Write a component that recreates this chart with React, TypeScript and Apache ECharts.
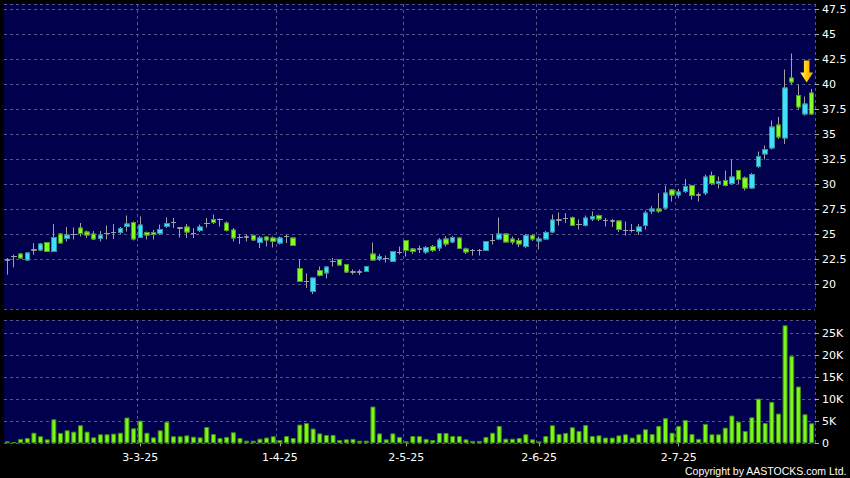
import React, { useEffect, useRef } from 'react';
import * as echarts from 'echarts';

// Trading days (2025) per month
const feb = [3, 4, 5, 6, 7, 10, 11, 12, 13, 14, 17, 18, 19, 20, 21, 24, 25, 26, 27, 28];
const mar = [3, 4, 5, 6, 7, 10, 11, 12, 13, 14, 17, 18, 19, 20, 21, 24, 25, 26, 27, 28, 31];
const apr = [1, 2, 3, 7, 8, 9, 10, 11, 14, 15, 16, 17, 22, 23, 24, 25, 28, 29, 30];
const may = [2, 6, 7, 8, 9, 12, 13, 14, 15, 16, 19, 20, 21, 22, 23, 26, 27, 28, 29, 30];
const jun = [2, 3, 4, 5, 6, 9, 10, 11, 12, 13, 16, 17, 18, 19, 20, 23, 24, 25, 26, 27, 30];
const jul = [2, 3, 4, 7, 8, 9, 10, 11, 14, 15, 16, 17, 18, 21, 22, 23, 24, 25, 28, 29, 30];
const monthDays: [number, number[]][] = [[2, feb], [3, mar], [4, apr], [5, may], [6, jun], [7, jul]];
const dates: string[] = monthDays.flatMap(([m, days]) => days.map((d) => `${d}-${m}-25`));
const labelMonths = [3, 4, 5, 6, 7];

const opens = [
  22.4, 22.75, 23.0, 22.4, 23.4, 23.4, 24.15, 23.25, 25.0, 24.55,
  24.95, 25.6, 25.2, 25.0, 24.55, 25.05, 25.15, 25.15, 25.75, 26.15,
  24.65, 25.15, 25.15, 25.05, 25.75, 26.15, 25.6, 25.7, 25.05, 25.35,
  26.05, 26.45, 26.45, 26.1, 25.4, 24.65, 24.7, 24.85, 24.15, 24.7,
  24.6, 24.1, 24.75, 24.6, 21.55, 20.25, 19.25, 21.35, 21.1, 22.25,
  22.45, 21.95, 21.2, 21.2, 21.25, 23.0, 22.5, 22.55, 22.25, 23.15,
  24.35, 23.5, 23.5, 23.2, 23.75, 23.6, 24.5, 24.2, 24.6, 23.5,
  23.35, 23.35, 23.35, 24.35, 24.5, 25.0, 24.5, 24.35, 23.75, 24.85,
  24.3, 24.5, 25.2, 26.4, 26.55, 26.65, 25.95, 25.85, 26.5, 26.85,
  26.35, 26.3, 26.3, 25.35, 25.35, 25.25, 25.85, 27.3, 27.5, 27.6,
  29.4, 28.9, 29.25, 29.85, 28.9, 29.1, 30.85, 30.05, 30.35, 30.05,
  31.35, 30.6, 29.6, 31.75, 33.0, 33.6, 35.9, 34.6, 40.6, 38.85,
  37.0, 39.1,
];
const closes = [
  22.4, 22.75, 22.6, 23.1, 23.4, 24.0, 23.25, 24.65, 24.1, 24.9,
  24.95, 25.05, 24.9, 24.5, 24.9, 25.05, 25.15, 25.55, 26.0, 24.5,
  25.9, 24.9, 24.95, 25.45, 26.05, 26.15, 25.6, 25.2, 25.05, 25.7,
  26.05, 26.15, 26.45, 25.35, 24.6, 24.65, 24.7, 24.4, 24.6, 24.4,
  24.25, 24.6, 24.75, 23.85, 20.25, 20.25, 20.6, 20.85, 21.7, 22.25,
  21.9, 21.2, 21.2, 21.2, 21.75, 22.4, 22.75, 22.55, 23.25, 23.15,
  23.35, 23.25, 23.5, 23.65, 23.35, 24.4, 24.0, 24.65, 23.55, 23.2,
  23.35, 23.35, 24.25, 24.35, 25.0, 24.2, 24.2, 24.0, 24.85, 24.5,
  24.5, 25.15, 26.4, 26.4, 26.55, 25.85, 25.95, 26.6, 26.75, 26.5,
  26.35, 26.3, 25.45, 25.35, 25.35, 25.7, 27.1, 27.5, 27.3, 29.1,
  28.9, 29.2, 29.75, 28.85, 28.9, 30.7, 30.05, 30.25, 29.85, 30.7,
  30.45, 29.6, 30.95, 32.75, 33.45, 35.7, 34.7, 39.6, 40.2, 37.7,
  38.0, 37.0,
];
const lows = [
  20.93, 21.66, 22.5, 22.35, 22.93, 23.3, 23.2, 23.25, 24.05, 24.25,
  24.45, 24.75, 24.6, 24.4, 24.25, 24.45, 24.5, 25.0, 25.25, 24.35,
  24.65, 24.45, 24.45, 24.9, 25.6, 25.6, 24.65, 24.6, 24.6, 25.2,
  25.65, 26.0, 25.75, 25.25, 24.25, 24.0, 24.25, 24.3, 23.6, 23.75,
  23.65, 23.95, 24.1, 23.85, 20.2, 19.6, 19.0, 20.75, 20.55, 21.75,
  21.85, 21.1, 20.95, 20.9, 21.2, 22.3, 22.3, 22.15, 22.25, 22.95,
  22.75, 23.0, 23.1, 23.0, 23.2, 23.3, 23.75, 24.1, 23.5, 23.0,
  22.85, 22.85, 23.35, 23.95, 24.45, 24.2, 23.95, 23.7, 23.6, 24.3,
  23.45, 24.45, 25.1, 25.85, 26.1, 25.8, 25.45, 25.75, 26.3, 26.3,
  25.75, 25.7, 25.2, 24.85, 25.15, 24.9, 25.45, 27.0, 27.1, 27.5,
  28.25, 28.6, 29.1, 28.45, 28.25, 28.9, 29.9, 29.55, 29.75, 29.95,
  30.0, 29.35, 29.55, 31.6, 32.45, 33.45, 34.5, 34.0, 39.95, 37.45,
  36.85, 36.95,
];
const highs = [
  22.6, 22.93, 23.1, 23.15, 24.1, 24.1, 24.2, 26.0, 25.1, 25.7,
  25.65, 26.1, 25.35, 25.3, 25.3, 25.85, 26.0, 25.7, 26.85, 26.25,
  26.75, 25.25, 25.4, 25.95, 26.65, 26.6, 25.65, 26.0, 25.6, 25.95,
  26.6, 26.95, 26.55, 26.25, 25.6, 25.0, 24.95, 24.95, 24.8, 24.75,
  24.75, 24.75, 24.95, 24.6, 22.45, 21.05, 20.6, 21.75, 21.75, 22.6,
  22.5, 22.0, 21.45, 21.45, 21.8, 24.15, 23.0, 22.85, 23.25, 23.75,
  24.35, 23.6, 23.85, 23.8, 23.9, 24.6, 24.8, 24.8, 24.65, 23.65,
  23.5, 23.5, 24.3, 25.0, 26.65, 25.0, 24.75, 24.6, 25.0, 25.0,
  24.75, 25.3, 26.95, 27.15, 27.1, 26.75, 26.45, 26.85, 27.25, 26.95,
  26.6, 26.5, 26.35, 26.25, 26.0, 26.0, 27.35, 27.8, 29.1, 29.85,
  29.5, 29.5, 30.5, 29.85, 29.15, 30.95, 31.25, 30.75, 31.35, 32.45,
  31.35, 30.75, 31.1, 33.25, 33.85, 36.35, 36.7, 41.45, 43.05, 39.95,
  38.75, 39.5,
];
const volumes = [
  450, 300, 1000, 1200, 2400, 1600, 900, 5450, 2350, 2950,
  2650, 4100, 2650, 1350, 2050, 2050, 2200, 2400, 5850, 3400,
  5150, 2400, 1350, 2950, 4900, 1600, 1600, 1800, 1500, 1350,
  3700, 2100, 1200, 1450, 2500, 1200, 600, 600, 1050, 1300,
  1600, 750, 1650, 1200, 4250, 4600, 3350, 2250, 1900, 1900,
  750, 900, 1000, 600, 600, 8350, 2250, 900, 2250, 1450,
  450, 1650, 1650, 1000, 750, 2350, 2350, 1650, 1650, 900,
  550, 550, 1450, 2400, 3950, 1050, 1050, 1200, 2050, 900,
  450, 1650, 4100, 2100, 2350, 3650, 2800, 4150, 1650, 1800,
  1300, 1300, 1800, 2050, 1300, 2050, 3200, 2100, 3950, 5700,
  2400, 3950, 5300, 2100, 1000, 4400, 2050, 2050, 3550, 6300,
  4900, 2800, 5900, 10150, 4600, 9400, 6750, 26800, 19850, 12900,
  6600, 4550,
];
const arrowLevel = 41.25;

const FONT = '"DejaVu Sans", sans-serif';
const GRID_LINE = '#55558c';
const PANEL = '#00004d';

const labelIdx: number[] = labelMonths.map((m) => dates.findIndex((d) => d.split('-')[1] === String(m)));
const isLabel = (i: number) => labelIdx.includes(i);

const App = () => {
  const ref = useRef<HTMLDivElement>(null);
  useEffect(() => {
    document.body.style.margin = '0';
    document.body.style.background = '#000';
    const chart = echarts.init(ref.current!, null, { renderer: 'svg' });
    const gridBase = { left: 4, right: 35, show: true, backgroundColor: PANEL, borderWidth: 0 };
    const ohlc = dates.map((_, i) => [opens[i], closes[i], lows[i], highs[i]]);
    const bodies = dates.map((_, i) => [
      opens[i], closes[i], Math.min(opens[i], closes[i]), Math.max(opens[i], closes[i]),
    ]);
    const option: any = {
      animation: false,
      backgroundColor: '#000',
      grid: [
        { ...gridBase, top: 4, height: 305 },
        { ...gridBase, top: 320, height: 123.3 },
      ],
      xAxis: [0, 1].map((g) => ({
        type: 'category',
        gridIndex: g,
        data: dates,
        boundaryGap: true,
        axisLine: { show: false },
        axisTick:
          g === 1
            ? { show: true, alignWithLabel: true, interval: (i: number) => isLabel(i), length: 3, lineStyle: { color: '#aaaaaa' } }
            : { show: false },
        axisLabel:
          g === 1
            ? { show: true, interval: (i: number) => isLabel(i), color: '#ffffff', fontFamily: FONT, fontSize: 11, margin: 9 }
            : { show: false },
        splitLine: { show: true, interval: (i: number) => isLabel(i), lineStyle: { color: GRID_LINE, type: [3, 3], width: 1 } },
      })),
      yAxis: [
        {
          type: 'value',
          gridIndex: 0,
          position: 'right',
          min: 17.5,
          max: 48,
          interval: 2.5,
          axisLine: { show: false },
          axisTick: { show: true, length: 4, lineStyle: { color: '#aaaaaa' } },
          axisLabel: { color: '#ffffff', fontFamily: FONT, fontSize: 11, margin: 7, showMinLabel: false, showMaxLabel: false },
          splitLine: { show: true, lineStyle: { color: GRID_LINE, type: [3, 3], width: 1 } },
        },
        {
          type: 'value',
          gridIndex: 1,
          position: 'right',
          min: 0,
          max: 28000,
          interval: 5000,
          axisLine: { show: false },
          axisTick: { show: true, length: 4, lineStyle: { color: '#aaaaaa' } },
          axisLabel: {
            color: '#ffffff',
            fontFamily: FONT,
            fontSize: 11,
            margin: 7,
            showMaxLabel: false,
            formatter: (v: number) => (v === 0 ? '0' : v / 1000 + 'K'),
          },
          splitLine: { show: true, lineStyle: { color: GRID_LINE, type: [3, 3], width: 1 } },
        },
      ],
      series: [
        {
          type: 'candlestick',
          xAxisIndex: 0,
          yAxisIndex: 0,
          data: ohlc,
          barWidth: 5,
          silent: true,
          itemStyle: {
            color: '#a0a0a0',
            color0: '#a0a0a0',
            borderColor: '#a0a0a0',
            borderColor0: '#a0a0a0',
            borderColorDoji: '#a0a0a0',
            borderWidth: 1,
          },
        },
        {
          type: 'candlestick',
          xAxisIndex: 0,
          yAxisIndex: 0,
          data: bodies,
          barWidth: 5,
          silent: true,
          itemStyle: {
            color: '#40e0f8',
            color0: '#80ff20',
            borderColor: '#2b93a8',
            borderColor0: '#4e9a1e',
            borderColorDoji: '#a0a0a0',
            borderWidth: 1,
          },
          markPoint: {
            silent: true,
            data: [
              {
                coord: [dates[dates.length - 1], arrowLevel],
                symbol: 'path://M4,0L10,0L10,11L14,11L7,20L0,11L4,11Z',
                symbolSize: [13, 22],
                symbolOffset: [-5, 0],
                itemStyle: {
                  color: new echarts.graphic.LinearGradient(0, 0, 1, 0, [
                    { offset: 0, color: '#fff27a' },
                    { offset: 0.5, color: '#ffcc00' },
                    { offset: 1, color: '#ff9900' },
                  ]),
                },
                label: { show: false },
              },
            ],
          },
        },
        {
          type: 'bar',
          xAxisIndex: 1,
          yAxisIndex: 1,
          data: volumes,
          barWidth: 5,
          silent: true,
          itemStyle: { color: '#7cf71c', borderColor: '#3f8f0c', borderWidth: 1 },
        },
      ],
      graphic: [
        {
          type: 'text',
          right: 3,
          bottom: 2,
          style: {
            text: 'Copyright by AASTOCKS.com Ltd.',
            fill: '#ffffff',
            fontFamily: '"Liberation Sans", Arial, sans-serif',
            fontSize: 10.5,
          },
        },
      ],
    };
    chart.setOption(option);
    return () => chart.dispose();
  }, []);
  return (
    <div
      ref={ref}
      style={{ position: 'fixed', left: 0, top: 0, width: 850, height: 478, background: '#000' }}
    />
  );
};

export default App;
